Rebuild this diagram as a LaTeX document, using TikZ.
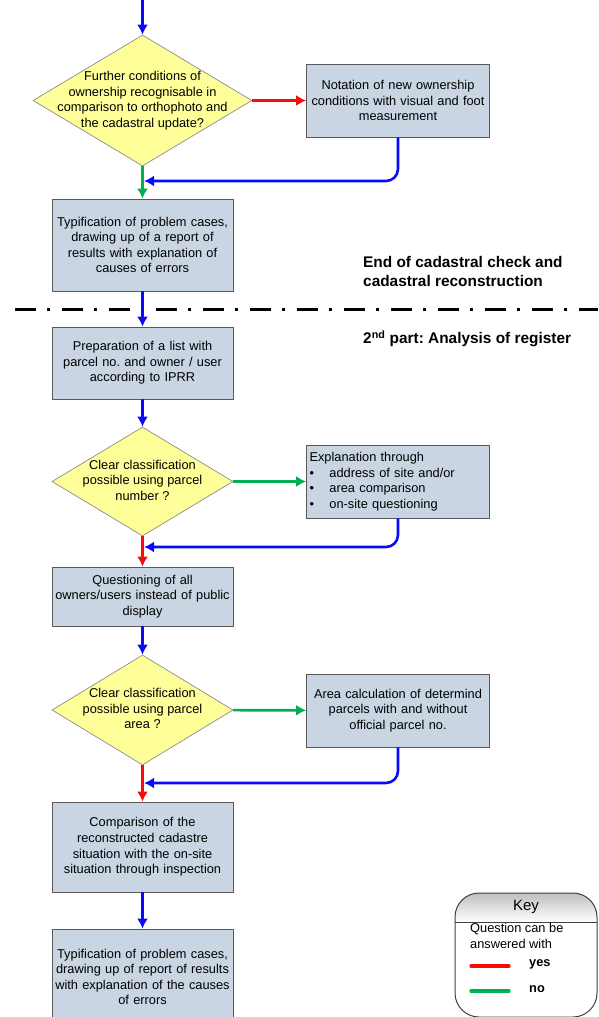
\documentclass[tikz,border=0pt]{standalone}
\usepackage{fontspec}
\setmainfont{Liberation Sans}
\usetikzlibrary{shapes.geometric,arrows.meta,calc}
\definecolor{boxfill}{RGB}{201,213,227}
\definecolor{qfill}{RGB}{255,255,153}
\definecolor{flowblue}{RGB}{10,10,250}
\definecolor{flowred}{RGB}{250,10,10}
\definecolor{flowgreen}{RGB}{0,176,80}
\tikzset{
    block/.style = {draw=black!65, fill=boxfill, rectangle, line width=0.8pt,
        minimum width=181pt, text width=175pt, align=center, inner sep=3pt,
        font=\fontsize{12.8}{15.6}\selectfont},
    sideblock/.style = {block, minimum width=183pt, text width=177pt},
    decision/.style = {draw=black!45, fill=qfill, diamond, inner sep=0pt,
        line width=0.7pt, font=\fontsize{12.8}{15.6}\selectfont},
    flow/.style = {draw, line width=2.6pt, -{Latex[length=10pt,width=11pt]}},
    back/.style = {flow, flowblue, rounded corners=12pt},
    sepline/.style = {draw, line width=3pt, dash pattern=on 21pt off 11pt on 3pt off 12pt},
    heading/.style = {anchor=west, align=left, inner sep=0pt,
        font=\fontsize{15.4}{19}\selectfont\bfseries},
    keyline/.style = {line width=3.2pt, line cap=round}
}
\newcommand{\qtext}[1]{\makebox[0pt]{\smash{\raisebox{-3.2pt}{\begin{tabular}{@{}c@{}}#1\end{tabular}}}}}

\begin{document}
\frenchspacing
\begin{tikzpicture}[x=1pt, y=-1pt]
    \useasboundingbox (0,0) rectangle (598,1017);
    % first part
    \coordinate (start) at (142.5,0);
    \node[decision, minimum width=219pt, minimum height=131pt] (d1) at (142.5,100.5)
        {\qtext{Further conditions of\\ownership recognisable in\\comparison to orthophoto and\\the cadastral update?}};
    \node[sideblock, minimum height=73pt] (notation) at (398,100.5)
        {Notation of new ownership\\conditions with visual and foot\\measurement};
    \node[block, minimum height=92pt] (typ1) at (142.5,245)
        {Typification of problem cases,\\drawing up of a report of\\results with explanation of\\causes of errors};
    \coordinate (m1) at (144,181);
    \draw [flow, flowblue] (start) -- (d1);
    \draw [flow, flowred] (d1) -- (notation);
    \draw [flow, flowgreen] (d1.south) -- (typ1.north);
    \draw [back] (notation.south) |- (m1);
    \node[heading] (endtxt) at (363,271.5) {End of cadastral check and\\cadastral reconstruction};
    % separator
    \coordinate (sepL) at (15,309);
    \coordinate (sepR) at (598,309);
    \draw [sepline] (sepL) -- (sepR);
    % second part
    \node[heading] (parttxt) at (363,339) {2\textsuperscript{nd} part: Analysis of register};
    \node[block, minimum height=72pt] (prep) at (142.5,363)
        {Preparation of a list with\\parcel no. and owner / user\\according to IPRR};
    \node[decision, minimum width=181pt, minimum height=109pt] (d2) at (142.5,481.5)
        {\qtext{Clear classification\\possible using parcel\\number ?}};
    \node[sideblock, minimum height=73pt, align=left] (expl) at (398,481.5)
        {Explanation through\\
         \makebox[20pt][l]{\textbullet}address of site and/or\\
         \makebox[20pt][l]{\textbullet}area comparison\\
         \makebox[20pt][l]{\textbullet}on-site questioning};
    \node[block, minimum height=59pt] (quest) at (142.5,596.5)
        {Questioning of all\\owners/users instead of public\\display};
    \coordinate (m2) at (144,547);
    \draw [flow, flowblue] (typ1) -- (prep);
    \draw [flow, flowblue] (prep) -- (d2);
    \draw [flow, flowgreen] (d2) -- (expl);
    \draw [flow, flowred] (d2.south) -- (quest.north);
    \draw [back] (expl.south) |- (m2);
    \node[decision, minimum width=181pt, minimum height=110pt] (d3) at (142.5,710)
        {\qtext{Clear classification\\possible using parcel\\area ?}};
    \node[sideblock, minimum height=73pt] (area) at (398,710.5)
        {Area calculation of determind\\parcels with and without\\official parcel no.};
    \node[block, minimum height=90pt] (comp) at (142.5,847)
        {Comparison of the\\reconstructed cadastre\\situation with the on-site\\situation through inspection};
    \node[block, minimum height=96pt] (typ2) at (142.5,977)
        {Typification of problem cases,\\drawing up of report of results\\with explanation of the causes\\of errors};
    \coordinate (m3) at (144,783);
    \draw [flow, flowblue] (quest) -- (d3);
    \draw [flow, flowgreen] (d3) -- (area);
    \draw [flow, flowred] (d3.south) -- (comp.north);
    \draw [back] (area.south) |- (m3);
    \draw [flow, flowblue] (comp) -- (typ2);
    % key
    \begin{scope}
        \clip[rounded corners=24pt] (455,893) rectangle (597,1017);
        \shade[top color=black!25, bottom color=white] (455,893) rectangle (597,922);
    \end{scope}
    \draw[black!75, line width=1pt] (455,922) -- (597,922);
    \draw[black!75, line width=1pt, rounded corners=24pt] (455,893) rectangle (597,1017);
    \node[font=\fontsize{15}{18}\selectfont] (keytxt) at (526,907) {Key};
    \node[anchor=west, align=left, inner sep=0pt, font=\fontsize{12.8}{15.4}\selectfont] (keyq) at (470,936)
        {Question can be\\answered with};
    \draw[keyline, flowred] (471,966) -- (509,966);
    \node[anchor=west, inner sep=0pt, font=\fontsize{12.8}{15}\selectfont\bfseries] (yes) at (529,964) {yes};
    \draw[keyline, flowgreen] (471,991) -- (509,991);
    \node[anchor=west, inner sep=0pt, font=\fontsize{12.8}{15}\selectfont\bfseries] (no) at (529,989) {no};
\end{tikzpicture}
\end{document}
